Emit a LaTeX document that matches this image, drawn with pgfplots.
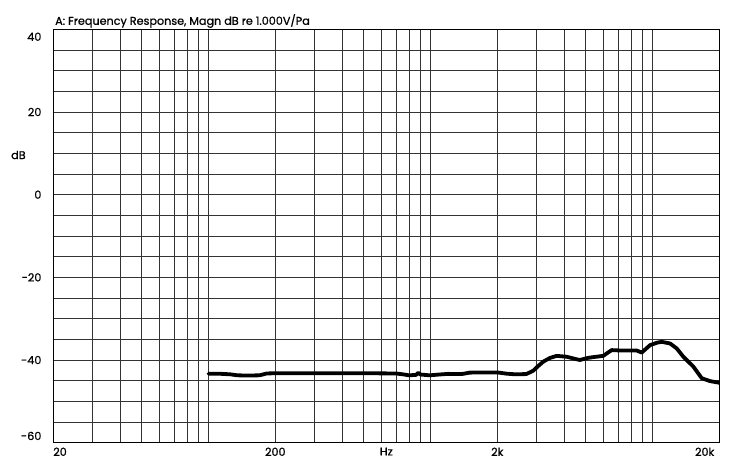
\documentclass[border=0pt]{standalone}
\usepackage{fontspec}
\setmainfont{Poppins}[FakeBold=0.8]
\usepackage{pgfplots}
\pgfplotsset{compat=1.18}
\begin{document}
\fontsize{11.2bp}{13bp}\selectfont
\begin{tikzpicture}
\begin{semilogxaxis}[
  scale only axis, width=666bp, height=413.4bp,
  xmin=20, xmax=20000, ymin=-60, ymax=40,
  xtick={20,200,632.5,2000,20000},
  xticklabels={\makebox[0pt][l]{20},200,Hz,2k,\makebox[0pt][r]{20k\hspace{5bp}}},
  minor xtick={30,40,50,60,70,80,90,100,200,300,400,500,600,700,800,900,1000,2000,3000,4000,5000,6000,7000,8000,9000,10000},
  ytick={-60,-40,-20,0,20,40},
  yticklabels={\raisebox{6.8bp}[\height][\depth]{-60},-40,-20,0,20,\raisebox{-7.4bp}[\height][\depth]{40}},
  minor ytick={-55,-50,-45,-35,-30,-25,-15,-10,-5,5,10,15,25,30,35},
  major tick length=0pt, minor tick length=0pt,
  xmajorgrids=false, xminorgrids=true, ymajorgrids=true, yminorgrids=true,
  grid style={black!80, line width=0.7bp},
  minor grid style={black!80, line width=0.7bp},
  axis line style={black, line width=0.8bp},
  xticklabel style={yshift=-1bp},
  yticklabel style={xshift=-8bp},
  clip=true,
]
\addplot[black, line width=3.8bp, line join=round, line cap=round] coordinates {
(100,-43.3) (110,-43.3) (125,-43.45) (135,-43.7) (150,-43.75) (170,-43.7) (183,-43.25)
(200,-43.2) (300,-43.2) (500,-43.2) (700,-43.25) (760,-43.5) (800,-43.7) (860,-43.6)
(881,-43.1) (900,-43.5) (990,-43.7) (1100,-43.5) (1200,-43.35) (1300,-43.4) (1400,-43.35)
(1500,-43.05) (1700,-43.0) (2000,-43.0) (2200,-43.3) (2400,-43.45) (2700,-43.4)
(2900,-42.6) (3050,-41.5) (3220,-40.4) (3450,-39.5) (3700,-39.0) (4100,-39.2)
(4700,-40.0) (5100,-39.5) (5400,-39.3) (6000,-39.0) (6300,-38.2) (6550,-37.6)
(7200,-37.7) (8500,-37.7) (8940,-38.2) (9750,-36.4) (10500,-35.8) (11000,-35.6)
(12000,-36.0) (12860,-37.2) (13770,-39.2) (15280,-41.6) (16670,-44.4) (18160,-45.1)
(20000,-45.5)
};
\end{semilogxaxis}
\node[anchor=base west, inner sep=0pt] at ([shift={(1.7bp,4.5bp)}]current axis.north west) {A: Frequency Response, Magn dB re 1.000V/Pa};
\node[anchor=west, inner sep=0pt] at ([shift={(-42.3bp,81bp)}]current axis.west) {dB};
\path ([shift={(-53.3bp,-21.3bp)}]current axis.south west) rectangle ([shift={(20.7bp,29.3bp)}]current axis.north east);
\end{tikzpicture}
\end{document}
